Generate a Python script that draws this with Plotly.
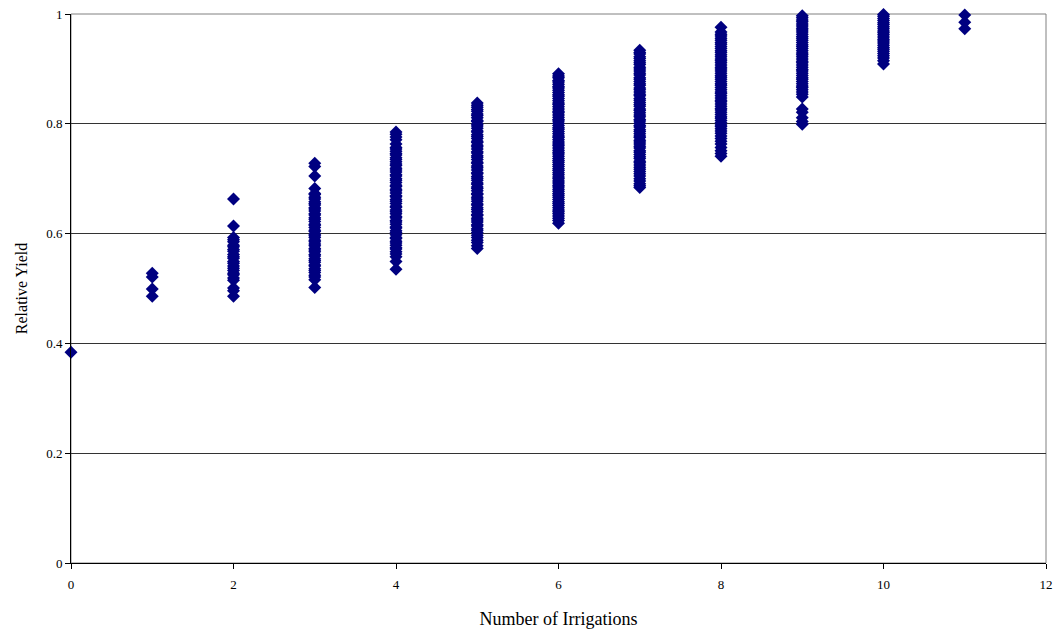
import plotly.graph_objects as go

# Relative yield observed for each number of irrigations
irrigations = [0, 1, 2, 3, 4, 5, 6, 7, 8, 9, 10, 11]

yield_0 = [0.384]
yield_1 = [0.528, 0.521, 0.499, 0.486]
yield_2 = [0.663, 0.614, 0.593, 0.589, 0.585, 0.579, 0.576, 0.571, 0.568, 0.562,
           0.558, 0.555, 0.549, 0.546, 0.541, 0.537, 0.533, 0.528, 0.525, 0.519,
           0.515, 0.501, 0.496, 0.486]
yield_3 = [0.728, 0.722, 0.705, 0.682, 0.673, 0.671, 0.666, 0.663, 0.658, 0.655,
           0.652, 0.647, 0.645, 0.641, 0.636, 0.634, 0.629, 0.626, 0.622, 0.617,
           0.615, 0.611, 0.606, 0.604, 0.599, 0.596, 0.593, 0.588, 0.585, 0.581,
           0.578, 0.573, 0.570, 0.567, 0.562, 0.559, 0.554, 0.551, 0.548, 0.543,
           0.541, 0.536, 0.533, 0.529, 0.524, 0.521, 0.516, 0.502]
yield_4 = [0.785, 0.781, 0.776, 0.771, 0.763, 0.757, 0.754, 0.750, 0.746, 0.743,
           0.738, 0.735, 0.731, 0.727, 0.724, 0.719, 0.716, 0.712, 0.707, 0.705,
           0.700, 0.697, 0.693, 0.688, 0.686, 0.681, 0.678, 0.674, 0.669, 0.667,
           0.662, 0.659, 0.655, 0.650, 0.648, 0.643, 0.640, 0.636, 0.631, 0.629,
           0.624, 0.621, 0.617, 0.612, 0.610, 0.605, 0.602, 0.598, 0.593, 0.591,
           0.586, 0.583, 0.579, 0.574, 0.572, 0.567, 0.563, 0.558, 0.549, 0.535]
yield_5 = [0.838, 0.834, 0.830, 0.826, 0.823, 0.818, 0.815, 0.811, 0.806, 0.804,
           0.799, 0.796, 0.792, 0.787, 0.785, 0.780, 0.777, 0.773, 0.768, 0.766,
           0.761, 0.758, 0.754, 0.749, 0.747, 0.742, 0.739, 0.735, 0.730, 0.728,
           0.723, 0.720, 0.716, 0.711, 0.709, 0.704, 0.701, 0.697, 0.692, 0.690,
           0.685, 0.682, 0.678, 0.673, 0.671, 0.666, 0.663, 0.659, 0.654, 0.652,
           0.647, 0.644, 0.640, 0.635, 0.633, 0.628, 0.625, 0.621, 0.616, 0.614,
           0.609, 0.606, 0.602, 0.597, 0.593, 0.588, 0.584, 0.578, 0.573]
yield_6 = [0.891, 0.887, 0.884, 0.879, 0.876, 0.872, 0.868, 0.865, 0.861, 0.857,
           0.853, 0.850, 0.846, 0.842, 0.838, 0.835, 0.831, 0.827, 0.823, 0.820,
           0.816, 0.812, 0.808, 0.805, 0.801, 0.797, 0.793, 0.790, 0.786, 0.782,
           0.778, 0.775, 0.771, 0.767, 0.763, 0.760, 0.756, 0.752, 0.748, 0.745,
           0.741, 0.737, 0.733, 0.730, 0.726, 0.722, 0.718, 0.715, 0.711, 0.707,
           0.703, 0.700, 0.696, 0.692, 0.688, 0.685, 0.681, 0.677, 0.673, 0.670,
           0.666, 0.662, 0.658, 0.655, 0.651, 0.647, 0.643, 0.640, 0.636, 0.632,
           0.628, 0.624, 0.619]
yield_7 = [0.934, 0.930, 0.927, 0.922, 0.919, 0.915, 0.911, 0.908, 0.903, 0.900,
           0.896, 0.892, 0.889, 0.884, 0.881, 0.877, 0.873, 0.870, 0.865, 0.862,
           0.858, 0.854, 0.851, 0.846, 0.843, 0.839, 0.835, 0.832, 0.827, 0.824,
           0.820, 0.816, 0.813, 0.808, 0.805, 0.801, 0.797, 0.794, 0.789, 0.786,
           0.782, 0.778, 0.775, 0.770, 0.767, 0.763, 0.759, 0.756, 0.751, 0.748,
           0.744, 0.740, 0.737, 0.732, 0.729, 0.725, 0.721, 0.717, 0.713, 0.709,
           0.705, 0.700, 0.696, 0.691, 0.687, 0.684]
yield_8 = [0.976, 0.967, 0.963, 0.960, 0.956, 0.952, 0.948, 0.945, 0.941, 0.937,
           0.933, 0.930, 0.926, 0.922, 0.918, 0.915, 0.911, 0.907, 0.903, 0.900,
           0.896, 0.892, 0.888, 0.885, 0.881, 0.877, 0.873, 0.870, 0.866, 0.862,
           0.858, 0.855, 0.851, 0.847, 0.843, 0.840, 0.836, 0.832, 0.828, 0.825,
           0.821, 0.817, 0.813, 0.810, 0.806, 0.802, 0.798, 0.795, 0.791, 0.787,
           0.783, 0.778, 0.773, 0.768, 0.763, 0.757, 0.751, 0.746, 0.741]
yield_9 = [0.997, 0.993, 0.989, 0.986, 0.982, 0.978, 0.974, 0.971, 0.967, 0.963,
           0.959, 0.956, 0.952, 0.948, 0.944, 0.941, 0.937, 0.933, 0.929, 0.926,
           0.922, 0.918, 0.914, 0.911, 0.907, 0.903, 0.899, 0.896, 0.892, 0.888,
           0.884, 0.881, 0.877, 0.873, 0.869, 0.866, 0.862, 0.858, 0.854, 0.849,
           0.827, 0.821, 0.811, 0.804, 0.799]
yield_10 = [0.999, 0.996, 0.992, 0.988, 0.984, 0.981, 0.977, 0.973, 0.969, 0.966,
            0.962, 0.958, 0.954, 0.951, 0.947, 0.943, 0.939, 0.936, 0.932, 0.928,
            0.924, 0.920, 0.915, 0.909]
yield_11 = [0.998, 0.985, 0.973]

yield_by_count = [yield_0, yield_1, yield_2, yield_3, yield_4, yield_5,
                  yield_6, yield_7, yield_8, yield_9, yield_10, yield_11]

x_vals, y_vals = [], []
for n, ys in zip(irrigations, yield_by_count):
    x_vals.extend([n] * len(ys))
    y_vals.extend(ys)

x_ticks = [0, 2, 4, 6, 8, 10, 12]
y_ticks = [0, 0.2, 0.4, 0.6, 0.8, 1]
y_tick_text = ["0", "0.2", "0.4", "0.6", "0.8", "1"]

font_family = "Liberation Serif, Times New Roman, serif"

fig = go.Figure()
fig.add_trace(go.Scatter(
    x=x_vals, y=y_vals, mode="markers",
    marker=dict(symbol="diamond", size=10, color="#000080", line=dict(width=0)),
    cliponaxis=False, showlegend=False,
))

# plot-area frame (grey on top and right)
fig.add_shape(type="rect", xref="paper", yref="paper", x0=0, y0=0, x1=1, y1=1,
              line=dict(color="#808080", width=1), layer="below")

fig.update_layout(
    width=1057, height=632,
    margin=dict(l=71, r=11, t=14, b=69, autoexpand=False),
    paper_bgcolor="white", plot_bgcolor="white",
    font=dict(family=font_family, size=13, color="black"),
    xaxis=dict(
        range=[0, 12], tickvals=x_ticks, ticks="outside", ticklen=5,
        tickcolor="black", showgrid=False, zeroline=False,
        showline=True, linecolor="black", linewidth=1,
        tickfont=dict(size=13), ticklabelstandoff=4, automargin=False,
        title=dict(text="Number of Irrigations", font=dict(size=18), standoff=21),
    ),
    yaxis=dict(
        range=[0, 1], tickvals=y_ticks, ticktext=y_tick_text, ticks="outside",
        ticklen=5, tickcolor="black", showgrid=True, gridcolor="#333333",
        gridwidth=1, zeroline=False, showline=True, linecolor="black",
        linewidth=1, tickfont=dict(size=13), automargin=False,
        title=dict(text="Relative Yield", font=dict(size=16), standoff=14),
    ),
)

fig.write_html("out.html")
